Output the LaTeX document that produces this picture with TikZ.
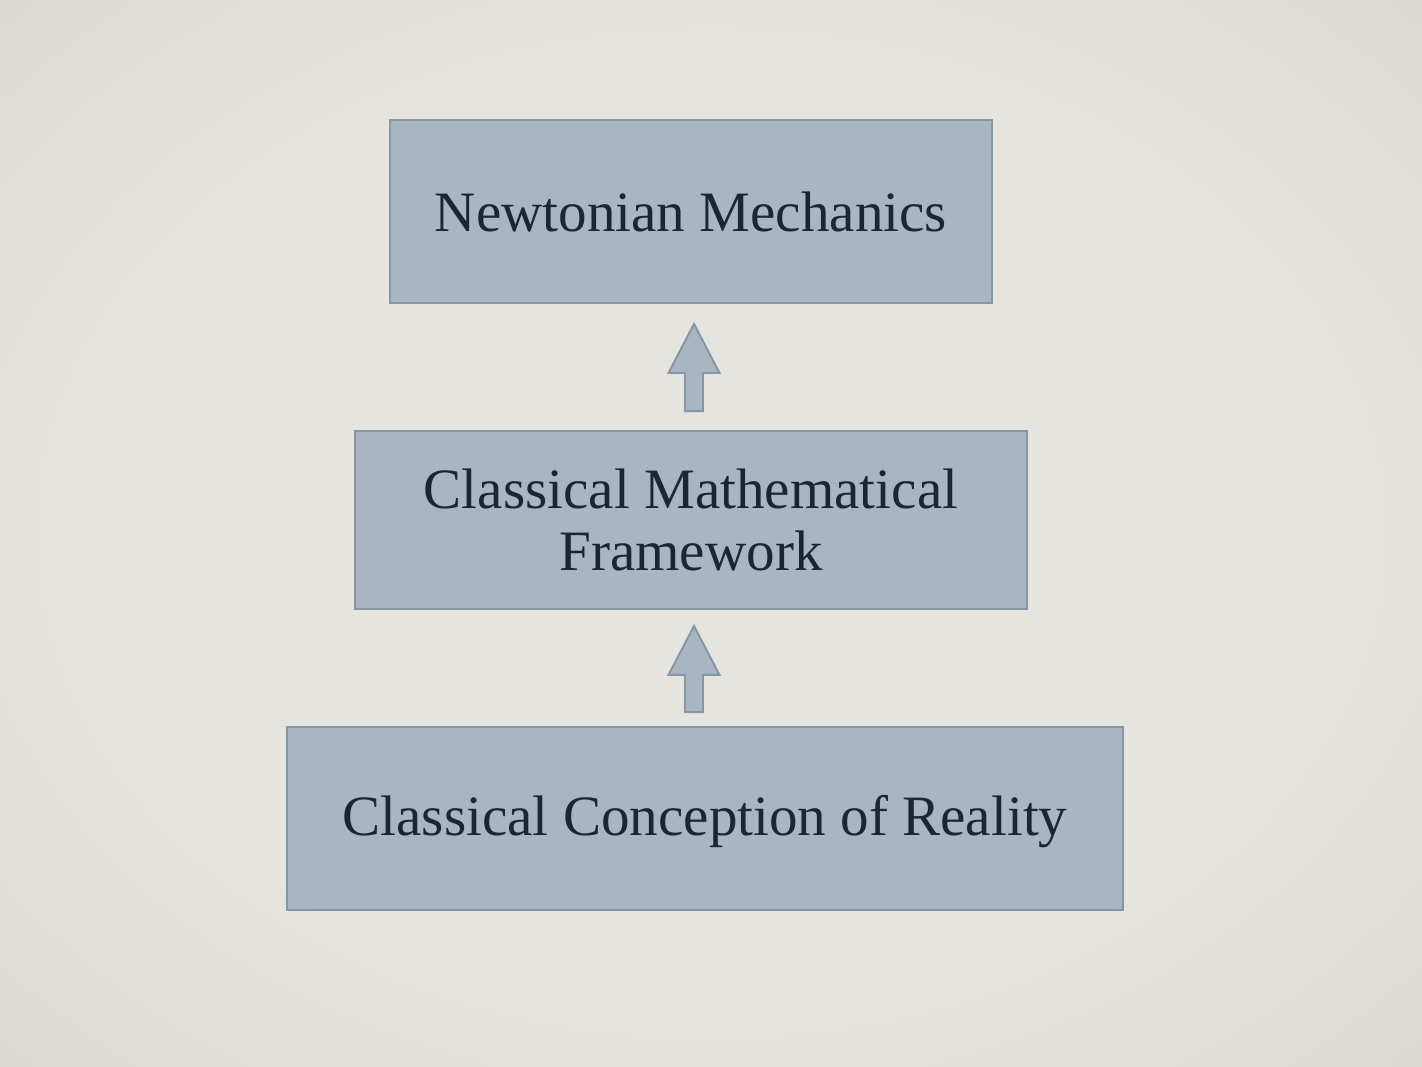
\documentclass[tikz,border=0pt]{standalone}
\usepackage{fontspec}
\setmainfont{Liberation Serif}
\usetikzlibrary{calc}
\definecolor{bgin}{HTML}{E6E4DF}
\definecolor{bgout}{HTML}{CDCBC4}
\definecolor{boxfill}{HTML}{A9B6C2}
\definecolor{boxline}{HTML}{8696A6}
\definecolor{ink}{HTML}{1B2631}
\pgfdeclareradialshading{vignette}{\pgfpoint{0bp}{0bp}}{color(0bp)=(bgin); color(22bp)=(bgin); color(52bp)=(bgout); color(72bp)=(bgout)}
% hollow block arrow from #1 (tail) up to #2 (tip)
\newcommand{\blockup}[2]{%
  \draw[blockarrow] let \p1=(#1), \p2=(#2) in
    ({\x1-0.18cm},{\y1}) -- ({\x1-0.18cm},{\y2-0.98cm}) -- ({\x1-0.51cm},{\y2-0.98cm}) --
    (\x2,\y2) -- ({\x1+0.51cm},{\y2-0.98cm}) -- ({\x1+0.18cm},{\y2-0.98cm}) -- ({\x1+0.18cm},{\y1}) -- cycle;}

\begin{document}
\begin{tikzpicture}[x=0.02cm, y=-0.02cm,
    level/.style={draw=boxline, line width=1.1pt, fill=boxfill, align=center, inner sep=0pt, text=ink, font=\fontsize{32.5}{35.7}\selectfont},
    blockarrow/.style={draw=boxline, line width=1.1pt, fill=boxfill, line join=miter}
]
\shade[shading=vignette] (0,0) rectangle (1422,1066);
\useasboundingbox (0,0) rectangle (1422,1066);

\node[level, minimum width=12.04cm, minimum height=3.66cm] (newton) at (691,211.5) {Newtonian Mechanics};
\node[level, minimum width=13.44cm, minimum height=3.56cm] (framework) at (691,520) {Classical Mathematical\\Framework};
\node[level, minimum width=16.72cm, minimum height=3.66cm, text depth=0.12cm] (reality) at (705,818.5) {Classical Conception of Reality};

\coordinate (up1tail) at ($(framework.north)+(3,-19)$);
\coordinate (up1tip) at ($(newton.south)+(3,20)$);
\coordinate (up2tail) at ($(reality.north)+(-11,-14)$);
\coordinate (up2tip) at ($(framework.south)+(3,16)$);
\blockup{up1tail}{up1tip}
\blockup{up2tail}{up2tip}
\end{tikzpicture}
\end{document}
